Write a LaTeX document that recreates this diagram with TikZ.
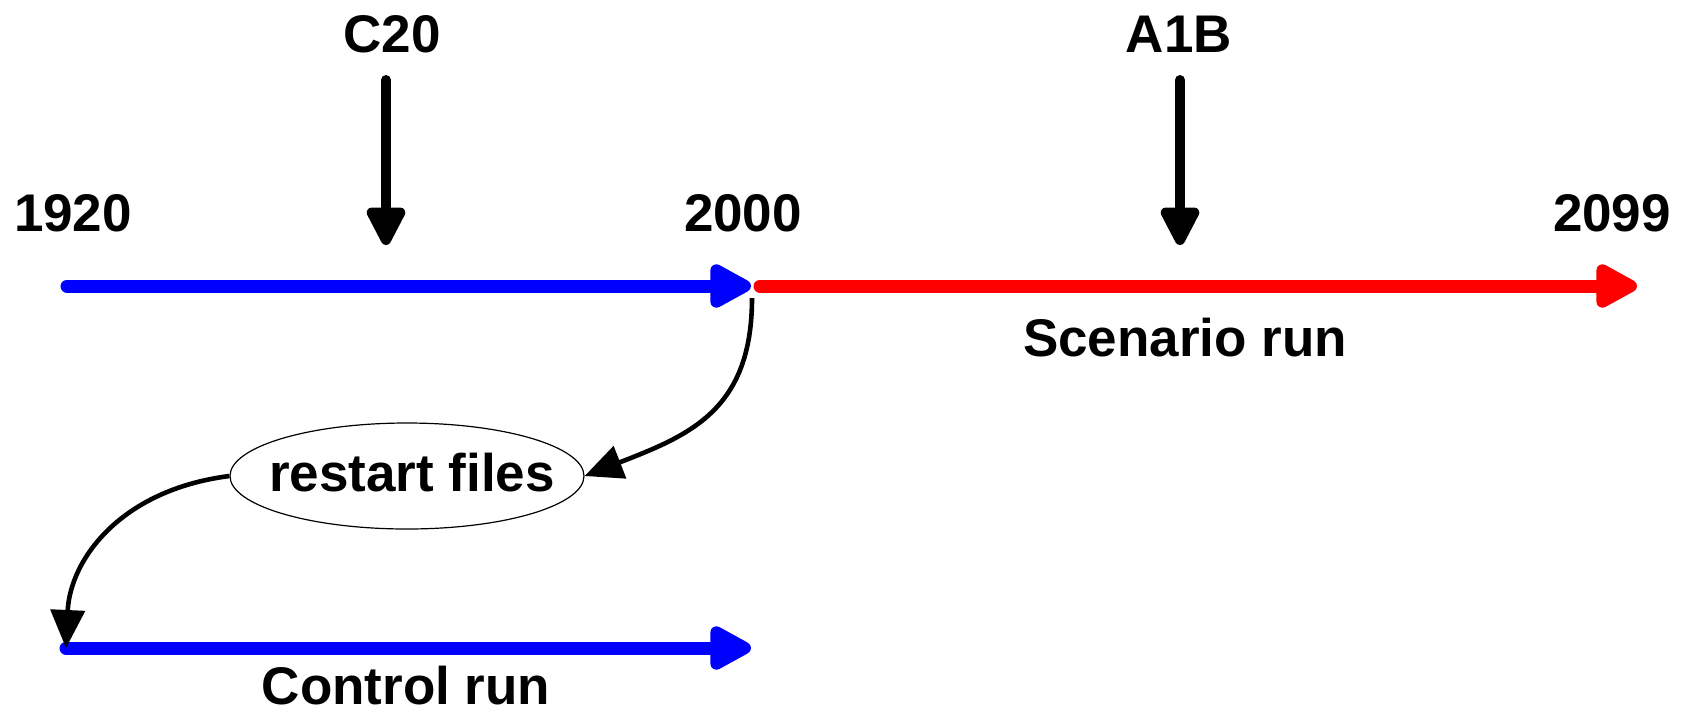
\documentclass[tikz,border=0pt]{standalone}
\usepackage{fontspec}
\setmainfont{Liberation Sans}
\usetikzlibrary{arrows.meta,shapes.geometric}

\tikzset{
  lbl/.style={font=\fontsize{26.5}{30}\selectfont\bfseries, inner sep=0pt},
  runline/.style={line width=6.5pt, line cap=round,
    -{Triangle[length=24pt,width=24pt,round]}},
  forcing/.style={line width=5pt, line cap=round,
    -{Triangle[length=22pt,width=21pt,round]}},
  link/.style={line width=2.3pt,
    -{Triangle[length=19pt,width=17pt]}},
}

\begin{document}
\begin{tikzpicture}[x=0.5pt,y=-0.5pt]
  \useasboundingbox (0,0) rectangle (1693,714);

  % timeline end points
  \coordinate (histA) at (67,286);
  \coordinate (histB) at (751,286);
  \coordinate (scenA) at (760,286);
  \coordinate (scenB) at (1637,286);
  \coordinate (ctrlA) at (66,648);
  \coordinate (ctrlB) at (751,648);
  \coordinate (c20top) at (386,80);
  \coordinate (c20tip) at (386,245);
  \coordinate (a1btop) at (1180,80);
  \coordinate (a1btip) at (1180,245);
  \coordinate (branch) at (752,298);

  % year labels
  \node[lbl] (y1920) at (73,213) {1920};
  \node[lbl] (y2000) at (743,213) {2000};
  \node[lbl] (y2099) at (1612,213) {2099};

  % forcing labels and arrows
  \node[lbl] (c20) at (392,34) {C20};
  \node[lbl] (a1b) at (1179,34) {A1B};
  \draw[forcing] (c20top) -- (c20tip);
  \draw[forcing] (a1btop) -- (a1btip);

  % historical and scenario runs
  \draw[runline, blue] (histA) -- (histB);
  \draw[runline, red] (scenA) -- (scenB);
  \node[lbl] (scen) at (1185,338) {Scenario run};

  % restart files
  \node[ellipse, draw, line width=0.6pt, minimum width=177pt,
        minimum height=53pt, inner sep=0pt] (rs) at (407,476) {};
  \node[lbl] (rstext) at (412,473) {restart files};

  % control run
  \draw[runline, blue] (ctrlA) -- (ctrlB);
  \node[lbl] (ctrl) at (406,686) {Control run};

  % restart hand-over
  \draw[link] (branch) .. controls (752,410) and (690,435) .. (rs.east);
  \draw[link] (rs.west) .. controls (120,490) and (70,560) .. (ctrlA);
\end{tikzpicture}
\end{document}
